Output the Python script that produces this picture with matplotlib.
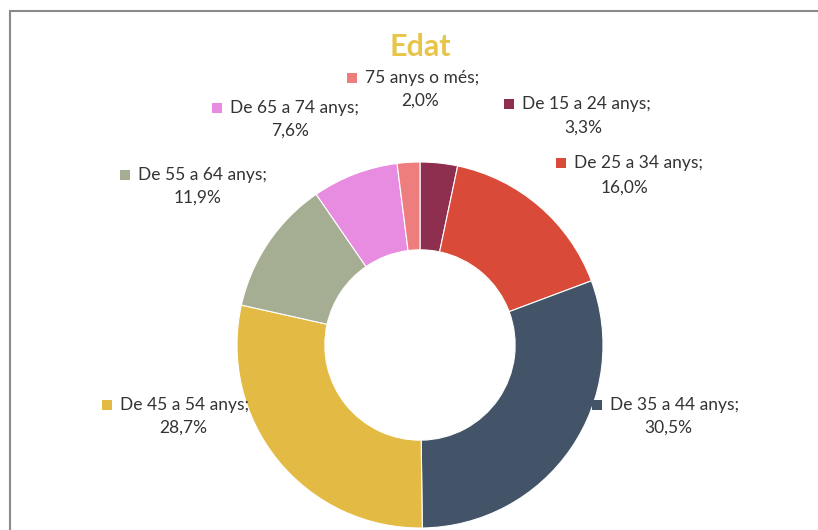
import matplotlib
matplotlib.use("Agg")
import matplotlib.pyplot as plt
from matplotlib.patches import Rectangle

categories = ["De 15 a 24 anys", "De 25 a 34 anys", "De 35 a 44 anys", "De 45 a 54 anys",
              "De 55 a 64 anys", "De 65 a 74 anys", "75 anys o més"]
values = [3.3, 16.0, 30.5, 28.7, 11.9, 7.6, 2.0]
colors = ["#8E2F50", "#D94B38", "#435468", "#E3BB44", "#A5AD93", "#E88CE2", "#EE7E7E"]
title = "Edat"

# label layout (pixel positions of the colored square, line-2 center)
label_pos = [(509, 104, 583, 128), (561, 163, 625, 188), (597, 405, 668, 428),
             (107, 405, 183, 428), (125, 175, 198, 198), (217, 108, 290, 131),
             (352, 78, 420, 101)]

W, H = 818, 530
fig = plt.figure(figsize=(W / 100, H / 100), dpi=100)
fig.patch.set_facecolor("white")

def fx(x):
    return x / W

def fy(y):
    return 1 - y / H

# border
fig.add_artist(Rectangle((fx(10), fy(600)), fx(900), 589 / H,
                         transform=fig.transFigure, fill=False, edgecolor="#8a8a8a", lw=1.5))

cx, cy, r = 420, 345, 183
ax = fig.add_axes([fx(cx - r), fy(cy + r), 2 * r / W, 2 * r / H])
ax.pie(values, colors=colors, startangle=90, counterclock=False, radius=1,
       wedgeprops=dict(width=0.48, edgecolor="white", linewidth=0.8))
ax.set_xlim(-1, 1)
ax.set_ylim(-1, 1)
ax.set_aspect("equal")
ax.axis("off")

font = "Lato"
fig.text(fx(420), fy(47), title, ha="center", va="center", fontsize=22, fontweight="bold",
         color="#E8C547", family=font)

for cat, val, col, (sx, sy, cx2, ly2) in zip(categories, values, colors, label_pos):
    fig.add_artist(Rectangle((fx(sx - 5), fy(sy + 5)), 10 / W, 10 / H, transform=fig.transFigure,
                             facecolor=col, edgecolor="none"))
    fig.text(fx(sx + 13), fy(sy), cat + ";", ha="left", va="center", fontsize=12.5,
             color="#333333", family=font)
    fig.text(fx(cx2), fy(ly2), f"{val:.1f}".replace(".", ",") + "%", ha="center", va="center",
             fontsize=12.5, color="#333333", family=font)

fig.savefig("out.png", dpi=100)
